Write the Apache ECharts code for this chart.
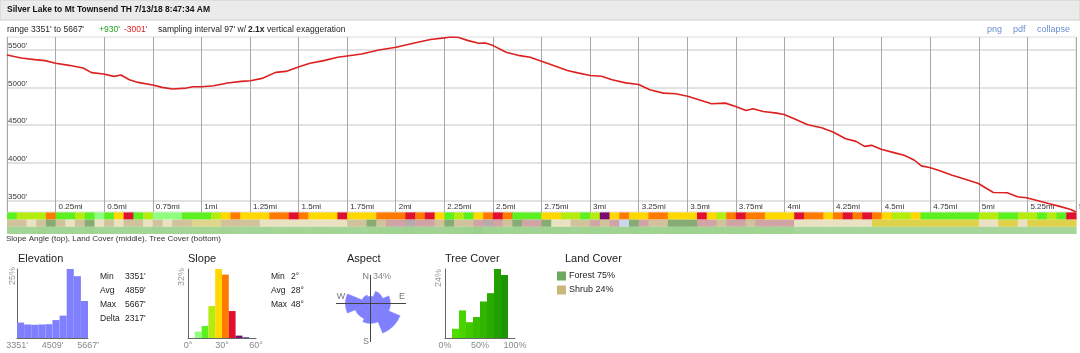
<!DOCTYPE html>
<html><head><meta charset="utf-8">
<script src="https://cdn.jsdelivr.net/npm/echarts@6/dist/echarts.min.js"></script>
<style>html,body{margin:0;padding:0;background:#fff}#c{width:1080px;height:353px}</style>
</head><body><div id="c"></div>
<script>
const FONT = '"Liberation Sans", Arial, sans-serif';
const titleText = 'Silver Lake to Mt Townsend TH 7/13/18 8:47:34 AM';
const gainFt = 930, lossFt = -3001, samplingFt = 97, exaggeration = 2.1;

// elevation profile (distance in miles, elevation in feet)
const distMi = [0,0.073,0.143,0.196,0.25,0.32,0.391,0.435,0.497,0.55,0.586,0.63,0.674,0.75,0.798,0.851,0.922,0.958,1.002,1.064,1.135,1.205,1.253,1.312,1.382,1.435,1.503,1.559,1.63,1.701,1.75,1.825,1.913,2.002,2.09,2.179,2.25,2.285,2.32,2.373,2.427,2.462,2.501,2.568,2.639,2.692,2.75,2.812,2.883,2.936,3.001,3.059,3.113,3.183,3.25,3.307,3.378,3.44,3.502,3.572,3.625,3.696,3.749,3.802,3.838,3.891,3.961,3.998,4.05,4.12,4.191,4.25,4.315,4.368,4.412,4.448,4.497,4.563,4.616,4.669,4.704,4.746,4.792,4.863,4.934,4.998,5.04,5.075,5.146,5.199,5.245,5.305,5.358,5.411,5.473,5.5];
const elevFt = [5429,5389,5367,5354,5319,5292,5257,5195,5177,5146,5164,5102,5066,5031,5000,4978,4991,5009,5009,5022,5058,5080,5088,5119,5199,5212,5274,5319,5354,5398,5416,5442,5496,5531,5584,5633,5655,5667,5664,5619,5584,5588,5553,5465,5420,5398,5346,5289,5223,5192,5157,5148,5100,5060,5038,4968,4924,4915,4884,4827,4783,4792,4748,4695,4717,4682,4660,4642,4585,4506,4467,4409,4321,4286,4220,4233,4181,4137,4102,4036,3961,3939,3904,3838,3781,3728,3662,3609,3605,3552,3539,3499,3464,3429,3385,3351];
const yTicks = [3500,4000,4500,5000,5500];
const xMaxMi = 5.5, xStepMi = 0.25;

// strips: one value per 0.05 mi cell
const slopeDeg = [14,18,20,22,30,16,15,20,14,8, 15,24,38,14,22,10,11,10,13,15, 16,20,26,30,25,24,28,34,32,37, 33,26,25,27,37,26,29,27,31,30, 34,37,32,39,26,17,21,16,24,31, 41,30,17,16,15,
  28,25,21,18,16,20,42,25,30,29, 25,30,31,27,25,26,37,24,18,31, 37,32,31,27,26,25,38,31,30,26, 34,37,31,36,30,25,22,21,24,17, 16,16,17,16,17,20,18,16,17,18, 20,17,19,17,38];
const landCover = ['T','T','C','T','G','T','C','T','G','C', 'T','C','T','T','C','T','C','T','T','L', 'L','L','T','T','T','T','C','C','C','C', 'C','C','C','C','C','T','T','G','T','P', 'P','R','P','P','T','G','T','T','P','R', 'P','T','G','P','P',
  'G','C','C','T','T','P','T','P','B','G', 'P','T','T','G','G','G','P','P','T','P', 'P','T','P','P','P','P','C','C','C','C', 'C','C','C','C','Y','Y','Y','Y','Y','Y', 'Y','Y','Y','Y','Y','C','C','Y','Y','C', 'Y','Y','Y','Y','Y'];
const treeCover = [70,68,70,72,70,68,70,70,72,70, 70,68,70,70,70,72,70,70,68,70, 70,70,72,70,70,68,70,70,70,70, 70,70,72,70,70,70,68,72,74,74, 74,76,74,74,72,74,74,76,80,74, 74,72,74,74,72,
  74,74,74,72,74,74,74,74,72,76, 74,74,74,76,76,76,74,74,74,74, 74,74,74,74,74,74,66,66,66,66, 66,66,66,66,66,66,66,66,66,66, 66,66,66,66,66,66,66,66,66,66, 66,66,66,66,66];
const landClassCodes = ['T','C','G','P','R','B','Y','L'];

// summary panels
const elevHistPct = [5.6,4.9,4.8,4.9,5.0,6.5,8.1,25,22.4,13.4];
const elevStatNames = ['Min','Avg','Max','Delta'];
const elevStatValues = [3351,4859,5667,2317];
const elevAxisLabels = [3351,4509,5667];
const slopeHistPct = [0,3.0,5.6,14.8,32,29.4,12.5,1.1,0.3,0];
const slopeStatNames = ['Min','Avg','Max'];
const slopeStatValues = [2,28,48];
const aspectDirs = ['N','NE','E','SE','S','SW','W','NW'];
const aspectPct = [1.7,5.8,13.0,34,13.0,9.0,20.7,2.8];
const treeHistPct = [0,3.2,9.6,5.5,7.3,12.7,15.6,24,21.9,0];
const landCoverNames = ['Forest','Shrub'];
const landCoverPct = [75,24];

// ---- styling helpers ----
function slopeColor(d){
  if (d < 6) return '#c8ffc8';
  if (d < 12) return '#90ff80';
  if (d < 18) return '#5cf020';
  if (d < 24) return '#b4ec10';
  if (d < 30) return '#ffd800';
  if (d < 36) return '#ff7a00';
  if (d < 42) return '#e01030';
  if (d < 48) return '#7a0a70';
  return '#202068';
}
const landClassColors = {T:'#d0c39c',C:'#e8e1c2',G:'#86ac74',P:'#d0a4a4',R:'#b8aaaa',B:'#c8d6ee',Y:'#ddd24a',L:'#dfd68e'};
function lerpColor(a,b,t){
  const pa=[1,3,5].map(i=>parseInt(a.substr(i,2),16)), pb=[1,3,5].map(i=>parseInt(b.substr(i,2),16));
  return 'rgb('+pa.map((v,i)=>Math.round(v+(pb[i]-v)*t)).join(',')+')';
}
function treeColor(p){ return lerpColor('#e0f2dc','#88c878',p/100); }
function treeHistColor(i){ return lerpColor('#58e800','#138c00',i/9); }
const landLegendColors = ['#6ea860','#c8b878'];

const nCells = slopeDeg.length;
const stripData = [];
for (let i=0;i<nCells;i++){
  stripData.push([i,0,slopeDeg[i]]);
  stripData.push([i,1,landClassCodes.indexOf(landCover[i])]);
  stripData.push([i,2,treeCover[i]]);
}

const chart = echarts.init(document.getElementById('c'), null, {renderer:'canvas'});
const txt = (text,x,y,o={}) => ({type:'text', z:100, style:Object.assign({text, x, y, fill:'#222', font:'9px '+FONT, textVerticalAlign:'middle'}, o)});
const HF = '8.5px '+FONT;
const graphics = [
  {type:'rect', z:0, shape:{x:0,y:0,width:1080,height:20}, style:{fill:'#ebebeb', stroke:'#cfcfcf', lineWidth:1}},
  txt(titleText, 7, 10, {font:'bold 8.5px '+FONT, fill:'#111'}),
  txt("range "+elevStatValues[0]+"' to "+elevStatValues[2]+"'", 7, 30, {font:HF}),
  txt("+"+gainFt+"'", 99, 30, {fill:'#22a022', font:HF}),
  txt(lossFt+"'", 124, 30, {fill:'#e02020', font:HF}),
  txt("sampling interval "+samplingFt+"' w/", 158, 30, {font:HF}),
  txt(exaggeration+"x", 248, 30, {font:'bold 8.5px '+FONT}),
  txt("vertical exaggeration", 267, 30, {font:HF}),
  txt('png', 987, 30, {fill:'#6a8fd0'}),
  txt('pdf', 1013, 30, {fill:'#6a8fd0'}),
  txt('collapse', 1037, 30, {fill:'#6a8fd0'}),
  txt('Slope Angle (top), Land Cover (middle), Tree Cover (bottom)', 6, 239, {font:'8px '+FONT, fill:'#333'}),
  txt('Elevation', 18, 259, {font:'11px '+FONT}),
  txt('Slope', 188, 259, {font:'11px '+FONT}),
  txt('Aspect', 347, 259, {font:'11px '+FONT}),
  txt('Tree Cover', 445, 259, {font:'11px '+FONT}),
  txt('Land Cover', 565, 259, {font:'11px '+FONT}),
  Object.assign(txt(Math.round(Math.max(...elevHistPct))+'%', 0, 0, {fill:'#999', textAlign:'center'}), {x:12.5, y:276, rotation:Math.PI/2}),
  Object.assign(txt(Math.round(Math.max(...slopeHistPct))+'%', 0, 0, {fill:'#999', textAlign:'center'}), {x:182, y:277, rotation:Math.PI/2}),
  Object.assign(txt(Math.round(Math.max(...treeHistPct))+'%', 0, 0, {fill:'#999', textAlign:'center'}), {x:438.5, y:278, rotation:Math.PI/2}),
  {type:'line', z:100, shape:{x1:336,y1:303.5,x2:406,y2:303.5}, style:{stroke:'#444', lineWidth:1}},
  {type:'line', z:100, shape:{x1:370.5,y1:275,x2:370.5,y2:342}, style:{stroke:'#444', lineWidth:1}},
  txt('N', 369, 277, {fill:'#777', textAlign:'right'}),
  txt(Math.round(Math.max(...aspectPct))+'%', 373, 277, {fill:'#888'}),
  txt('W', 341, 297, {fill:'#777', textAlign:'center'}),
  txt('E', 402, 297, {fill:'#777', textAlign:'center'}),
  txt('S', 369, 342, {fill:'#777', textAlign:'right'})
];
elevStatNames.forEach((n,i)=>{ graphics.push(txt(n,100,277+i*14,{font:HF})); graphics.push(txt(elevStatValues[i]+"'",125,277+i*14,{font:HF})); });
slopeStatNames.forEach((n,i)=>{ graphics.push(txt(n,271,277+i*14,{font:HF})); graphics.push(txt(slopeStatValues[i]+'°',291,277+i*14,{font:HF})); });
landCoverNames.forEach((n,i)=>{
  graphics.push({type:'rect', z:100, shape:{x:557,y:271.5+i*14,width:9,height:9}, style:{fill:landLegendColors[i]}});
  graphics.push(txt(n+' '+landCoverPct[i]+'%', 569, 276+i*14));
});

const histY = (gi, arr) => ({gridIndex:gi, type:'value', min:0, max:Math.max(...arr), axisLine:{show:true, lineStyle:{color:'#666'}}, axisLabel:{show:false}, axisTick:{show:false}, splitLine:{show:false}});
const histCatX = (gi) => ({gridIndex:gi, type:'category', position:'top', data:[0,1,2,3,4,5,6,7,8,9], show:false});
const lblFont = {fontFamily:FONT, fontSize:9, color:'#888'};
const gridBase = {outerBoundsMode:'none', containLabel:false};

const option = {
  animation:false,
  textStyle:{fontFamily:FONT},
  graphic: graphics,
  grid:[
    Object.assign({left:7, top:37, width:1069, height:175, show:true, borderColor:'#ddd', borderWidth:1}, gridBase),
    Object.assign({left:7, top:212.4, width:1069, height:21.6}, gridBase),
    Object.assign({left:17, top:269, width:71, height:69}, gridBase),
    Object.assign({left:188, top:269, width:68, height:69}, gridBase),
    Object.assign({left:445, top:269, width:70, height:69}, gridBase)
  ],
  polar:{center:[370.5,303.5], radius:32},
  angleAxis:{type:'category', data:aspectDirs, startAngle:112.5, clockwise:true, show:false},
  radiusAxis:{min:0, max:Math.sqrt(Math.max(...aspectPct)), show:false},
  xAxis:[
    {gridIndex:0, type:'value', position:'bottom', min:0, max:xMaxMi, interval:xStepMi,
     axisLine:{show:false}, axisTick:{show:false},
     splitLine:{show:true, lineStyle:{color:'#a8a8a8', width:1}},
     axisLabel:{inside:true, margin:1, align:'left', verticalAlign:'bottom', padding:[0,0,0,3], fontSize:8, color:'#333', fontFamily:FONT,
       formatter:v=> v===0 ? '' : v+'mi'}},
    {gridIndex:1, type:'category', data:slopeDeg.map((_,i)=>i), show:false},
    histCatX(2),
    {gridIndex:2, type:'value', position:'bottom', min:elevAxisLabels[0], max:elevAxisLabels[2], axisLine:{show:true, lineStyle:{color:'#666'}}, axisTick:{show:false}, splitLine:{show:false},
     axisLabel:Object.assign({customValues:elevAxisLabels, margin:3, formatter:v=>v+"'"}, lblFont)},
    histCatX(3),
    {gridIndex:3, type:'value', position:'bottom', min:0, max:60, interval:30, axisLine:{show:true, lineStyle:{color:'#666'}}, axisTick:{show:false}, splitLine:{show:false},
     axisLabel:Object.assign({margin:3, formatter:v=>v+'°'}, lblFont)},
    histCatX(4),
    {gridIndex:4, type:'value', position:'bottom', min:0, max:100, interval:50, axisLine:{show:true, lineStyle:{color:'#666'}}, axisTick:{show:false}, splitLine:{show:false},
     axisLabel:Object.assign({margin:3, formatter:v=>v+'%'}, lblFont)}
  ],
  yAxis:[
    {gridIndex:0, type:'value', min:3351, max:5667, axisLine:{show:false},
     axisTick:{show:false, customValues:yTicks},
     splitLine:{show:true, lineStyle:{color:'#e2e2e2', width:2}},
     axisLabel:{inside:true, customValues:yTicks, margin:1, verticalAlign:'bottom', fontSize:8, color:'#333', fontFamily:FONT, formatter:v=>v+"'"}},
    {gridIndex:1, type:'category', data:['slope','land','tree'], inverse:true, show:false},
    histY(2, elevHistPct),
    histY(3, slopeHistPct),
    histY(4, treeHistPct)
  ],
  series:[
    {type:'line', xAxisIndex:0, yAxisIndex:0, data:distMi.map((d,i)=>[d,elevFt[i]]), showSymbol:false, symbol:'none',
     lineStyle:{color:'#dd2020', width:1.6}, z:5},
    {type:'custom', xAxisIndex:1, yAxisIndex:1, data:stripData,
     renderItem:(params, api)=>{
       const i=api.value(0), r=api.value(1), v=api.value(2);
       const p=api.coord([i,r]); const s=api.size([1,1]);
       const fill = r===0 ? slopeColor(v) : (r===1 ? landClassColors[landClassCodes[v]] : treeColor(v));
       return {type:'rect', shape:{x:p[0]-s[0]/2, y:p[1]-s[1]/2, width:s[0]+0.6, height:s[1]}, style:{fill}};
     }},
    {type:'bar', xAxisIndex:2, yAxisIndex:2, data:elevHistPct, barCategoryGap:'0%', itemStyle:{color:'#8080ff'}},
    {type:'bar', xAxisIndex:4, yAxisIndex:3, data:slopeHistPct, barCategoryGap:'0%', itemStyle:{color:p=>slopeColor(p.dataIndex*6+3)}},
    {type:'bar', xAxisIndex:6, yAxisIndex:4, data:treeHistPct, barCategoryGap:'0%', itemStyle:{color:p=>treeHistColor(p.dataIndex)}},
    {type:'bar', coordinateSystem:'polar', data:aspectPct.map(Math.sqrt), barCategoryGap:'0%', itemStyle:{color:'#8080ff', borderColor:'#8080ff', borderWidth:0.6}}
  ]
};
chart.setOption(option);
</script>
</body></html>
